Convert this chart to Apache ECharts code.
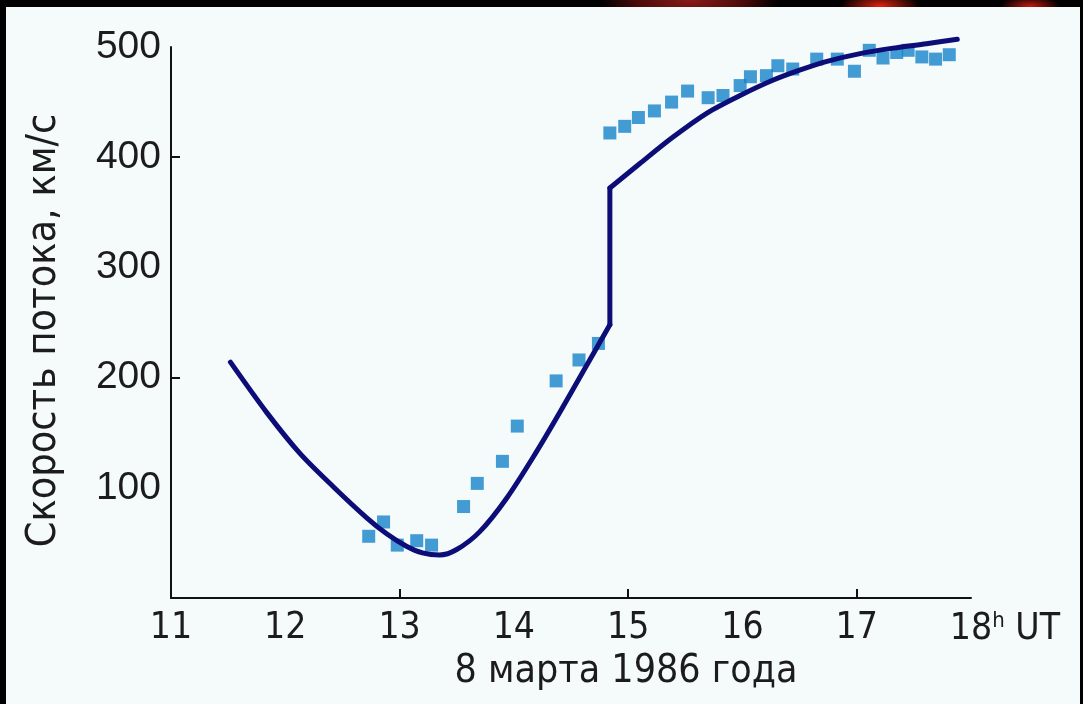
<!DOCTYPE html>
<html>
<head>
<meta charset="utf-8">
<script src="https://cdn.jsdelivr.net/npm/echarts@6/dist/echarts.min.js"></script>
<style>
  html, body { margin: 0; padding: 0; background: #000; }
  #wrap { position: relative; width: 1083px; height: 704px; background: #000; overflow: hidden; }
  #deco { position: absolute; left: 0; top: 0; width: 1083px; height: 8px;
    background:
      radial-gradient(ellipse 90px 30px at 690px 0px, #8a1a1a 0%, #4a0a0a 60%, rgba(0,0,0,0) 100%),
      radial-gradient(ellipse 40px 14px at 880px 6px, #e02010 0%, rgba(0,0,0,0) 100%),
      radial-gradient(ellipse 30px 10px at 1030px 6px, #c01a10 0%, rgba(0,0,0,0) 100%); }
  #panel { position: absolute; left: 6px; top: 7px; width: 1074px; height: 697px; background: #f5fbfb; }
  #chart { position: absolute; left: 0; top: 0; width: 1083px; height: 704px; }
</style>
</head>
<body>
<div id="wrap">
  <div id="deco"></div>
  <div id="panel"></div>
  <div id="chart"></div>
</div>
<script>
// ---- data ----
const xLabels = [11, 12, 13, 14, 15, 16, 17, 18];
const xTicks = [13, 15, 17];
const yLabels = [100, 200, 300, 400, 500];
const yTicks = [200, 400];

// model curve, before the jump
const modelX1 = [11.52, 11.84, 12.13, 12.42, 12.71, 12.89, 13.06, 13.20, 13.35, 13.50, 13.70, 13.94, 14.20, 14.40, 14.62, 14.84];
const modelY1 = [214, 168, 131, 101, 73, 58, 47, 41, 39, 44, 60, 91, 133, 168, 208, 248];
// model curve, after the jump
const modelX2 = [14.84, 15.10, 15.39, 15.69, 15.98, 16.27, 16.50, 16.74, 17.03, 17.32, 17.61, 17.88];
const modelY2 = [372, 394, 418, 440, 456, 470, 479, 487, 494, 499, 503, 507];

const obsX = [12.73, 12.86, 12.98, 13.15, 13.28, 13.56, 13.68, 13.90, 14.03, 14.37, 14.57, 14.74,
              14.84, 14.97, 15.09, 15.23, 15.38, 15.52, 15.70, 15.83, 15.98, 16.07, 16.21, 16.31, 16.44,
              16.65, 16.83, 16.98, 17.11, 17.23, 17.35, 17.45, 17.57, 17.69, 17.81];
const obsY = [56, 69, 48, 52, 48, 83, 104, 124, 156, 197, 216, 231,
              422, 428, 436, 442, 450, 460, 454, 456, 465, 473, 474, 483, 480,
              489, 489, 478, 497, 490, 495, 497, 491, 489, 493];

const yTitle = 'Скорость потока, км/с';
const xTitle = '8 марта 1986 года';

// ---- chart ----
const narrow = '"Liberation Sans Narrow", "Arial Narrow", "DejaVu Sans Condensed", sans-serif';
const regular = '"Liberation Sans", Arial, sans-serif';
const textColor = '#1c1c1c';

const cv = document.createElement('canvas').getContext('2d');
cv.font = '22px ' + narrow; const wH = cv.measureText('h').width;
cv.font = '37px ' + narrow; const wUT = cv.measureText(' UT').width;
const padW = wH + wUT;

const lineStyle = { color: '#0d0d78', width: 5, cap: 'round', join: 'round' };
const lastX1 = modelX1[modelX1.length - 1], lastY1 = modelY1[modelY1.length - 1];
const firstX2 = modelX2[0], firstY2 = modelY2[0];

const chart = echarts.init(document.getElementById('chart'), null, { renderer: 'canvas' });
chart.setOption({
  backgroundColor: 'transparent',
  animation: false,
  grid: { left: 171, right: 112, top: 47, bottom: 106, containLabel: false },
  xAxis: {
    type: 'value', min: 11, max: 18, interval: 1,
    axisLine: { show: true, onZero: false, lineStyle: { color: '#111', width: 2 } },
    axisTick: { show: true, inside: true, length: 9, customValues: xTicks, lineStyle: { color: '#111', width: 2 } },
    splitLine: { show: false },
    axisLabel: {
      customValues: xLabels, margin: 12, color: textColor, fontFamily: narrow, fontSize: 37,
      formatter: function (v) {
        if (v === 18) return '{pad|}{n|18}{s|h}{n| UT}';
        return String(v);
      },
      rich: {
        pad: { width: padW },
        n: { fontFamily: narrow, fontSize: 37, color: textColor },
        s: { fontFamily: narrow, fontSize: 22, color: textColor, padding: [0, 0, 16, 0] }
      }
    },
    name: xTitle, nameLocation: 'middle', nameGap: 52,
    nameTextStyle: { fontFamily: narrow, fontSize: 39, color: textColor, padding: [0, 0, 0, 110] }
  },
  yAxis: {
    type: 'value', min: 0, max: 500, interval: 100,
    axisLine: { show: true, onZero: false, lineStyle: { color: '#111', width: 2 } },
    axisTick: { show: true, inside: true, length: 9, customValues: yTicks, lineStyle: { color: '#111', width: 2 } },
    splitLine: { show: false },
    axisLabel: { customValues: yLabels, margin: 10, color: textColor, fontFamily: regular, fontSize: 39 },
    name: yTitle, nameLocation: 'middle', nameRotate: 90, nameGap: 106,
    nameTextStyle: { fontFamily: narrow, fontSize: 41, color: textColor, padding: [0, 16, 0, 0] }
  },
  series: [
    {
      type: 'scatter', name: 'obs', symbol: 'rect', symbolSize: 13,
      itemStyle: { color: '#1683cb' },
      data: obsX.map((x, i) => [x, obsY[i]]), z: 2
    },
    {
      type: 'line', name: 'model1', showSymbol: false, symbol: 'none', smooth: 0.3, clip: false,
      lineStyle: lineStyle,
      data: modelX1.map((x, i) => [x, modelY1[i]]), z: 3
    },
    {
      type: 'line', name: 'jump', showSymbol: false, symbol: 'none', smooth: false, clip: false,
      lineStyle: lineStyle,
      data: [[lastX1, lastY1], [firstX2, firstY2]], z: 3
    },
    {
      type: 'line', name: 'model2', showSymbol: false, symbol: 'none', smooth: 0.3, clip: false,
      lineStyle: lineStyle,
      data: modelX2.map((x, i) => [x, modelY2[i]]), z: 3
    }
  ]
});
</script>
</body>
</html>
